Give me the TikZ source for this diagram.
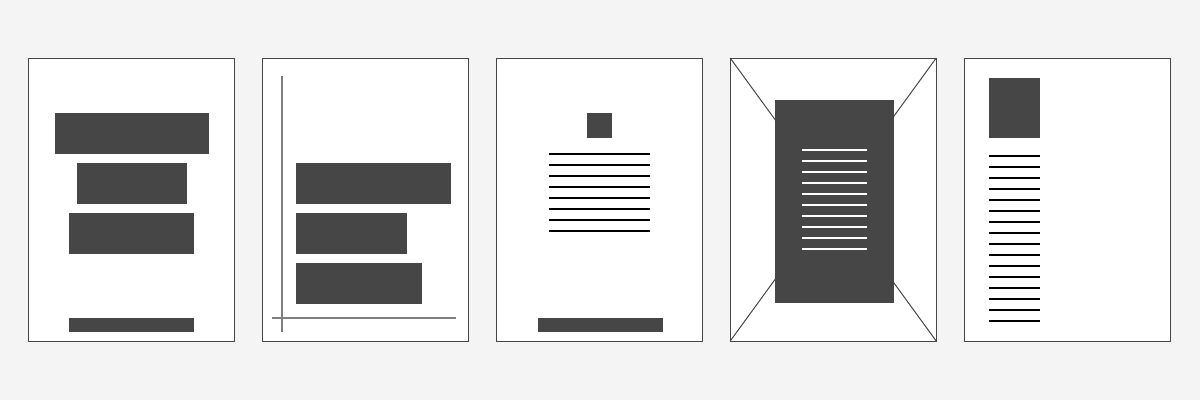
\documentclass[tikz,border=0pt]{standalone}
\usetikzlibrary{positioning}
\definecolor{pagebg}{HTML}{F4F4F4}
\definecolor{ink}{HTML}{464646}
\tikzset{
  page/.style={
    fill=white,
    draw=ink,
    line width=0.7pt,
    inner sep=0pt,
    outer sep=0pt,
    minimum width=5.15cm,
    minimum height=7.075cm,
  },
  block/.style={
    fill=ink,
  },
  text line/.style={
    draw=#1,
    line width=1.4pt,
  },
  text line/.default=black,
  guide/.style={
    draw=gray,
    line width=0.9pt,
  }
}

\begin{document}
\begin{tikzpicture}[x=0.025cm, y=-0.025cm, node distance=0.7cm]
        \fill[pagebg] (0,0) rectangle (1200,400);

        \node [page, anchor=north west] (p1) at (28,58) {};
        \node [page, right=of p1] (p2) {};
        \node [page, right=of p2] (p3) {};
        \node [page, right=of p3] (p4) {};
        \node [page, right=of p4] (p5) {};

        % centred title blocks
        \fill [block] (55,113) rectangle (209,154);
        \fill [block] (77,163) rectangle (187,204);
        \fill [block] (69,213) rectangle (194,254);
        \fill [block] (69,318) rectangle (194,332);

        % blocks on a margin guide
        \draw [guide] (282,76) -- (282,332);
        \draw [guide] (272,318) -- (456,318);
        \fill [block] (296,163) rectangle (451,204);
        \fill [block] (296,213) rectangle (407,254);
        \fill [block] (296,263) rectangle (422,304);

        % logo and body text
        \fill [block] (587,113) rectangle (612,138);
        \foreach \y in {0,...,7}
          \draw [text line] (549,154.3+11*\y) -- (650,154.3+11*\y);
        \fill [block] (538,318) rectangle (663,332);

        % framed panel
        \draw [ink, line width=0.7pt] (p4.north west) -- (p4.south east);
        \draw [ink, line width=0.7pt] (p4.north east) -- (p4.south west);
        \fill [block] (775,100) rectangle (894,303);
        \foreach \y in {0,...,9}
          \draw [text line=white] (802,150+11*\y) -- (867,150+11*\y);

        % narrow column
        \fill [block] (989,78) rectangle (1040,138);
        \foreach \y in {0,...,15}
          \draw [text line] (989,155.7+11*\y) -- (1040,155.7+11*\y);
      \end{tikzpicture}
\end{document}
